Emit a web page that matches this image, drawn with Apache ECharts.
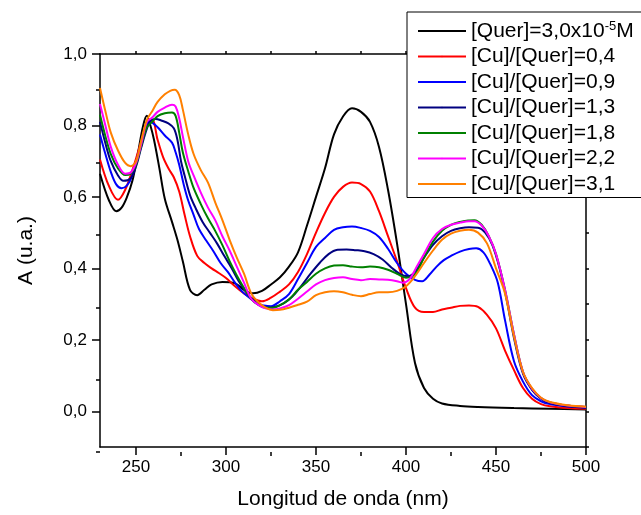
<!DOCTYPE html>
<html>
<head>
<meta charset="utf-8">
<script src="https://cdn.jsdelivr.net/npm/echarts@6/dist/echarts.min.js"></script>
<style>
  html, body { margin: 0; padding: 0; background: #fff; }
  #chart { width: 641px; height: 515px; }
</style>
</head>
<body>
<div id="chart"></div>
<script>
// UV-Vis spectra of quercetin with increasing Cu/Quer ratios
const seriesNames = [
  '[Quer]=3,0x10-5M',
  '[Cu]/[Quer]=0,4',
  '[Cu]/[Quer]=0,9',
  '[Cu]/[Quer]=1,3',
  '[Cu]/[Quer]=1,8',
  '[Cu]/[Quer]=2,2',
  '[Cu]/[Quer]=3,1'
];
const seriesColors = ['#000000', '#ff0000', '#0000ff', '#000080', '#008000', '#ff00ff', '#ff8000'];

const querWl = [230,235,239,242,245,248,251,254,256,258,260,263,266,270,273,276,280,284,288,292,298,305,310,315,320,325,330,335,340,345,350,355,360,365,370,375,380,385,390,395,400,405,410,415,420,430,440,460,480,500];
const querA  = [0.665,0.59,0.56,0.57,0.60,0.645,0.72,0.80,0.827,0.80,0.76,0.68,0.595,0.53,0.48,0.42,0.34,0.325,0.34,0.355,0.362,0.358,0.34,0.33,0.337,0.355,0.375,0.405,0.445,0.52,0.60,0.68,0.775,0.825,0.848,0.838,0.81,0.74,0.62,0.47,0.30,0.135,0.065,0.035,0.022,0.015,0.012,0.009,0.007,0.005];

const cu04Wl = [230,235,240,244,248,252,256,259,262,265,268,271,274,277,280,284,288,292,296,300,305,310,315,320,325,330,335,340,345,350,355,360,365,370,375,380,385,390,395,400,405,410,415,420,425,430,435,440,445,450,455,460,465,470,475,480,490,500];
const cu04A  = [0.705,0.63,0.592,0.62,0.675,0.74,0.80,0.815,0.76,0.712,0.68,0.655,0.615,0.55,0.49,0.435,0.415,0.40,0.387,0.373,0.35,0.33,0.315,0.308,0.318,0.335,0.355,0.39,0.44,0.50,0.555,0.60,0.628,0.64,0.636,0.615,0.56,0.49,0.42,0.345,0.29,0.278,0.278,0.285,0.29,0.295,0.296,0.292,0.27,0.232,0.17,0.115,0.065,0.035,0.02,0.014,0.009,0.007];

const cu09Wl = [230,233,236,239,242,245,248,251,254,257,259,262,266,270,272,274,276.5,279,282,285,289,293,297,301,305,309,313,317,321,325,330,335,340,345,350,355,360,365,370,375,380,385,390,395,400,405,409,413,417,421,425,430,435,439,443,447,451,455,460,465,470,475,480,490,500];
const cu09A  = [0.775,0.72,0.67,0.635,0.624,0.632,0.66,0.715,0.77,0.81,0.808,0.795,0.772,0.752,0.725,0.69,0.635,0.59,0.55,0.51,0.478,0.448,0.415,0.39,0.36,0.335,0.318,0.302,0.296,0.294,0.308,0.328,0.37,0.415,0.46,0.485,0.508,0.515,0.517,0.513,0.505,0.488,0.455,0.415,0.385,0.368,0.364,0.382,0.405,0.423,0.435,0.447,0.454,0.456,0.445,0.41,0.36,0.255,0.14,0.083,0.045,0.028,0.02,0.013,0.01];

const cu13Wl = [230,233,236,240,243,247,250,253,256,258,261,264,268,271,273,275,277,280,283,287,291,295,299,303,307,311,315,319,323,327,332,337,342,347,352,357,362,367,372,377,382,387,392,397,401,405,410,415,420,425,430,435,440,444,448,452,456,460,465,470,475,480,490,500];
const cu13A  = [0.81,0.75,0.70,0.66,0.645,0.652,0.685,0.74,0.79,0.813,0.818,0.814,0.806,0.792,0.76,0.70,0.66,0.605,0.57,0.53,0.50,0.47,0.435,0.402,0.365,0.335,0.312,0.297,0.29,0.292,0.302,0.322,0.352,0.385,0.415,0.44,0.452,0.453,0.451,0.448,0.44,0.425,0.402,0.383,0.378,0.39,0.43,0.466,0.49,0.505,0.512,0.515,0.514,0.50,0.465,0.40,0.31,0.205,0.105,0.06,0.035,0.023,0.014,0.01];

const cu18Wl = [230,233,236,240,244,247,250,253,256,259,262,266,270,272,274,276,279,282,286,290,294,298,302,306,310,314,318,322,326,330,335,340,345,350,355,360,365,370,375,380,385,390,395,400,403,406,410,415,420,425,430,435,438,442,446,450,455,460,465,470,475,480,490,500];
const cu18A  = [0.83,0.77,0.72,0.68,0.661,0.665,0.69,0.745,0.795,0.81,0.826,0.834,0.836,0.827,0.78,0.725,0.672,0.625,0.58,0.54,0.505,0.465,0.42,0.38,0.345,0.315,0.298,0.29,0.29,0.297,0.313,0.34,0.362,0.385,0.40,0.408,0.409,0.405,0.403,0.405,0.403,0.396,0.385,0.374,0.376,0.39,0.43,0.475,0.505,0.522,0.53,0.534,0.535,0.522,0.49,0.44,0.34,0.215,0.11,0.063,0.037,0.025,0.016,0.012];

const cu22Wl = [230,233,236,240,244,247,250,253,256,259,262,266,270,272,274,276,279,282,286,290,294,298,302,306,310,314,318,322,326,330,335,340,345,350,355,360,365,370,375,380,385,390,395,398,402,406,410,415,420,425,430,435,438,442,446,450,455,460,465,470,475,480,490,500];
const cu22A  = [0.86,0.80,0.74,0.69,0.665,0.668,0.695,0.75,0.81,0.822,0.838,0.85,0.858,0.853,0.82,0.77,0.70,0.66,0.612,0.57,0.535,0.49,0.45,0.405,0.36,0.315,0.298,0.288,0.285,0.288,0.297,0.315,0.335,0.355,0.367,0.373,0.375,0.37,0.367,0.37,0.369,0.368,0.364,0.36,0.37,0.405,0.44,0.485,0.51,0.522,0.528,0.532,0.532,0.52,0.49,0.44,0.34,0.215,0.11,0.063,0.037,0.025,0.016,0.012];

const cu31Wl = [230,233,236,240,244,247,250,253,256,259,262,266,269,271.5,274,276,279,282,286,290,294,298,302,306,310,314,318,322,326,330,335,340,345,350,355,360,365,370,375,380,385,390,395,400,405,410,415,420,425,430,435,440,445,450,455,460,465,470,475,480,490,500];
const cu31A  = [0.905,0.84,0.78,0.73,0.695,0.686,0.70,0.76,0.815,0.84,0.866,0.887,0.897,0.90,0.885,0.845,0.775,0.72,0.675,0.64,0.585,0.535,0.48,0.43,0.385,0.33,0.305,0.29,0.283,0.284,0.29,0.298,0.307,0.325,0.333,0.336,0.333,0.326,0.322,0.328,0.333,0.333,0.337,0.35,0.378,0.415,0.45,0.48,0.497,0.505,0.508,0.50,0.47,0.40,0.33,0.21,0.11,0.065,0.038,0.026,0.017,0.013];

const wavelengths = [querWl, cu04Wl, cu09Wl, cu13Wl, cu18Wl, cu22Wl, cu31Wl];
const absorbances = [querA, cu04A, cu09A, cu13A, cu18A, cu22A, cu31A];

// Axis ticks
const xMajor = [250, 300, 350, 400, 450, 500];
const xMinor = [275, 325, 375, 425, 475];
const xMirror = [250, 275, 300, 325, 350, 375, 400, 425, 450, 475, 500];
const yMajor = [0, 0.2, 0.4, 0.6, 0.8, 1.0];
const yMinor = [-0.1, 0.1, 0.3, 0.5, 0.7, 0.9];
const yMirror = [-0.1, 0, 0.1, 0.2, 0.3, 0.4, 0.5, 0.6, 0.7, 0.8, 0.9, 1.0];

const FONT = '"Liberation Sans", Arial, sans-serif';
const INK = '#000000';
const axisLineStyle = { color: INK, width: 1.5 };

function pairs(xs, ys) {
  return xs.map((x, i) => [x, ys[i]]);
}

const gridBox = { left: 100, right: 55, top: 54, bottom: 63 };

const series = seriesNames.map((name, i) => ({
  name: name,
  type: 'line',
  xAxisIndex: 0,
  yAxisIndex: 0,
  data: pairs(wavelengths[i], absorbances[i]),
  symbol: 'none',
  smooth: 0.35,
  color: seriesColors[i],
  lineStyle: { width: 2, color: seriesColors[i] },
  z: 2 + i
}));

const chart = echarts.init(document.getElementById('chart'), null, { renderer: 'canvas' });

chart.setOption({
  animation: false,
  backgroundColor: '#ffffff',
  textStyle: { fontFamily: FONT },
  grid: [
    Object.assign({ containLabel: false }, gridBox),
    Object.assign({ containLabel: false }, gridBox)
  ],
  legend: {
    orient: 'vertical',
    left: 407,
    top: 12,
    itemWidth: 48,
    itemHeight: 2,
    itemGap: 4.5,
    padding: [8, 10, 3, 10],
    borderColor: INK,
    borderWidth: 1,
    backgroundColor: '#ffffff',
    align: 'left',
    data: seriesNames,
    lineStyle: { width: 2 },
    formatter: function (name) {
      if (name === seriesNames[0]) {
        return '{t|[Quer]=3,0x10}{s|-5}{t|M}';
      }
      return '{t|' + name + '}';
    },
    textStyle: {
      color: INK,
      fontFamily: FONT,
      fontSize: 21,
      rich: {
        t: { fontSize: 21, lineHeight: 22, color: INK, fontFamily: FONT },
        s: { fontSize: 13, lineHeight: 13, verticalAlign: 'top', color: INK, fontFamily: FONT }
      }
    }
  },
  xAxis: [
    {
      type: 'value', gridIndex: 0, position: 'bottom', min: 230, max: 500,
      name: 'Longitud de onda (nm)', nameLocation: 'middle', nameGap: 42,
      nameTextStyle: { fontSize: 21, color: INK, fontFamily: FONT },
      axisLine: { show: true, onZero: false, lineStyle: axisLineStyle },
      axisTick: { show: true, customValues: xMajor, length: 8, inside: false, lineStyle: axisLineStyle },
      axisLabel: { show: true, customValues: xMajor, margin: 12, fontSize: 17, color: INK, fontFamily: FONT },
      splitLine: { show: false }
    },
    {
      type: 'value', gridIndex: 0, position: 'top', min: 230, max: 500,
      axisLine: { show: true, onZero: false, lineStyle: axisLineStyle },
      axisTick: { show: true, customValues: xMirror, length: 3, inside: false, lineStyle: axisLineStyle },
      axisLabel: { show: false },
      splitLine: { show: false }
    },
    {
      type: 'value', gridIndex: 1, position: 'bottom', min: 230, max: 500,
      axisLine: { show: false, onZero: false },
      axisTick: { show: true, customValues: xMinor, length: 4, inside: false, lineStyle: axisLineStyle },
      axisLabel: { show: false },
      splitLine: { show: false }
    }
  ],
  yAxis: [
    {
      type: 'value', gridIndex: 0, position: 'left', min: -0.1, max: 1.0,
      name: 'A (u.a.)', nameLocation: 'middle', nameGap: 63, nameRotate: 90,
      nameTextStyle: { fontSize: 21, color: INK, fontFamily: FONT },
      axisLine: { show: true, onZero: false, lineStyle: axisLineStyle },
      axisTick: { show: true, customValues: yMajor, length: 8, inside: false, lineStyle: axisLineStyle },
      axisLabel: {
        show: true, customValues: yMajor, margin: 13, fontSize: 17, color: INK, fontFamily: FONT,
        formatter: v => v.toFixed(1).replace('.', ',')
      },
      splitLine: { show: false }
    },
    {
      type: 'value', gridIndex: 0, position: 'right', min: -0.1, max: 1.0,
      axisLine: { show: true, onZero: false, lineStyle: axisLineStyle },
      axisTick: { show: true, customValues: yMirror, length: 3, inside: false, lineStyle: axisLineStyle },
      axisLabel: { show: false },
      splitLine: { show: false }
    },
    {
      type: 'value', gridIndex: 1, position: 'left', min: -0.1, max: 1.0,
      axisLine: { show: false, onZero: false },
      axisTick: { show: true, customValues: yMinor, length: 4, inside: false, lineStyle: axisLineStyle },
      axisLabel: { show: false },
      splitLine: { show: false }
    }
  ],
  series: series
});
</script>
</body>
</html>
